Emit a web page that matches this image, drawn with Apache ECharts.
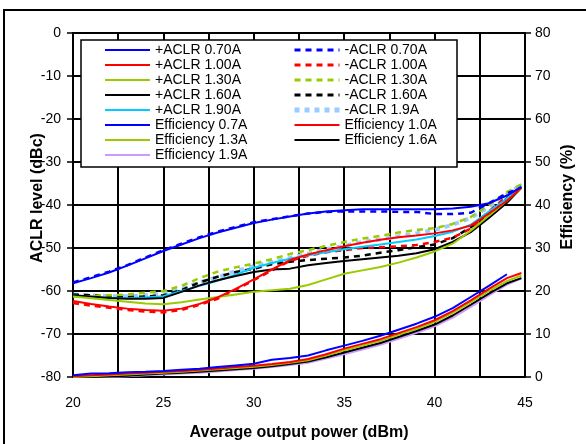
<!DOCTYPE html>
<html>
<head>
<meta charset="utf-8">
<script src="https://cdn.jsdelivr.net/npm/echarts@6/dist/echarts.min.js"></script>
<style>
html,body{margin:0;padding:0;background:#fff;}
#chart{width:586px;height:444px;}
</style>
</head>
<body>
<div id="chart"></div>
<script>
// ---- data ----
const power = [20,21,22,23,24,25,26,27,28,29,30,31,32,33,34,35,36,37,38,39,40,41,42,43,44,44.8];

const posAclr070 = [-58.2,-57.0,-55.7,-54.1,-52.4,-50.7,-49.2,-47.7,-46.4,-45.3,-44.2,-43.4,-42.7,-42.0,-41.5,-41.2,-41.0,-41.0,-41.0,-41.0,-41.0,-40.8,-40.4,-39.6,-37.8,-35.8];
const negAclr070 = [-58.0,-56.8,-55.5,-54.0,-52.2,-50.5,-49.0,-47.5,-46.2,-45.1,-44.0,-43.3,-42.6,-42.0,-41.6,-41.5,-41.5,-41.5,-41.6,-41.6,-42.1,-42.1,-41.8,-39.6,-37.3,-35.9];
const posAclr100 = [-62.3,-63.0,-63.6,-64.1,-64.4,-64.6,-64.1,-63.0,-61.5,-59.5,-57.3,-55.0,-52.8,-51.5,-50.5,-49.6,-48.8,-48.1,-47.5,-47.1,-46.6,-45.9,-44.8,-42.0,-39.0,-36.0];
const negAclr100 = [-62.8,-63.4,-63.9,-64.4,-64.8,-65.0,-64.4,-63.2,-61.8,-59.7,-57.5,-55.2,-53.0,-51.8,-51.0,-50.5,-50.0,-49.8,-49.6,-49.3,-48.6,-47.6,-45.5,-41.5,-38.0,-35.8];
const posAclr130 = [-61.3,-61.7,-62.1,-62.5,-62.9,-63.1,-62.6,-62.0,-61.4,-60.8,-60.2,-59.8,-59.5,-58.6,-57.3,-56.0,-55.2,-54.4,-53.4,-52.2,-50.8,-49.0,-46.0,-42.5,-39.0,-36.0];
const negAclr130 = [-61.2,-61.2,-61.0,-60.8,-60.4,-60.0,-58.8,-57.0,-55.5,-54.5,-53.6,-52.6,-51.4,-50.5,-49.5,-48.6,-47.8,-47.2,-46.4,-45.8,-45.4,-44.4,-42.8,-40.0,-37.0,-35.2];
const posAclr160 = [-61.0,-61.3,-61.6,-61.8,-61.8,-61.6,-60.2,-58.7,-57.5,-56.5,-55.6,-55.0,-54.8,-54.0,-53.5,-53.0,-52.6,-52.2,-51.8,-51.2,-50.3,-48.6,-46.3,-43.0,-39.5,-36.0];
const negAclr160 = [-60.8,-61.0,-61.3,-61.4,-61.3,-61.0,-59.8,-58.0,-56.7,-55.6,-54.8,-53.8,-53.2,-52.8,-52.5,-52.2,-51.8,-51.1,-50.5,-49.8,-49.2,-47.7,-45.2,-42.0,-38.5,-36.0];
const posAclr190 = [-61.0,-61.4,-61.6,-61.7,-61.5,-61.2,-60.0,-58.8,-57.6,-56.2,-54.6,-53.5,-52.5,-51.7,-51.0,-50.3,-49.7,-49.2,-48.6,-48.0,-47.2,-46.2,-44.6,-41.5,-38.5,-35.5];
const negAclr190 = [-60.8,-61.0,-61.2,-61.2,-61.0,-60.6,-59.5,-58.0,-56.8,-55.4,-54.2,-53.3,-52.3,-51.3,-50.3,-49.5,-48.6,-48.0,-47.3,-46.6,-45.8,-44.6,-43.0,-40.5,-37.5,-35.3];

const eff07 = [0.4,0.8,0.9,1.1,1.2,1.4,1.7,1.9,2.3,2.7,3.1,4.0,4.4,5.0,6.2,7.3,8.4,9.6,11.0,12.4,14.0,16.0,18.6,21.2,23.9,null];
const eff10 = [0.2,0.4,0.6,0.8,1.0,1.2,1.4,1.7,2.0,2.3,2.6,3.0,3.5,4.2,5.3,6.6,7.7,8.8,10.2,11.6,13.2,15.3,17.8,20.5,23.0,24.2];
const eff13 = [0.0,0.2,0.4,0.6,0.8,1.0,1.2,1.5,1.8,2.1,2.4,2.8,3.3,3.9,5.0,6.2,7.3,8.4,9.8,11.2,12.8,14.9,17.4,20.0,22.3,23.6];
const eff16 = [0.0,0.0,0.1,0.3,0.6,0.8,1.0,1.2,1.5,1.8,2.1,2.5,3.0,3.6,4.6,5.7,6.8,7.9,9.3,10.7,12.2,14.3,16.8,19.4,21.8,23.0];
const eff19 = [0.0,0.0,0.0,0.2,0.4,0.6,0.8,1.0,1.3,1.6,1.9,2.3,2.8,3.3,4.3,5.3,6.4,7.5,8.9,10.3,11.8,13.8,16.3,19.0,21.5,22.9];

const xTicks = [20,25,30,35,40,45];
const leftNames = ['+ACLR 0.70A','+ACLR 1.00A','+ACLR 1.30A','+ACLR 1.60A','+ACLR 1.90A','Efficiency 0.7A','Efficiency 1.3A','Efficiency 1.9A'];
const rightNames = ['-ACLR 0.70A','-ACLR 1.00A','-ACLR 1.30A','-ACLR 1.60A','-ACLR 1.9A','Efficiency 1.0A','Efficiency 1.6A'];

// ---- build chart ----
const FONT = '"Liberation Sans", Arial, sans-serif';
const pairs = arr => power.map((x, i) => [x, arr[i]]);
function mk(name, arr, color, axis, dash, width) {
  return {
    name: name, type: 'line', yAxisIndex: axis, data: pairs(arr),
    symbol: 'none', showSymbol: false, smooth: false, animation: false,
    lineStyle: { color: color, width: width || 2, type: dash || 'solid' },
    itemStyle: { color: color }
  };
}
const series = [
  mk('Efficiency 1.9A', eff19, '#CC99FF', 1),
  mk('Efficiency 1.6A', eff16, '#000000', 1),
  mk('Efficiency 1.3A', eff13, '#99CC00', 1),
  mk('Efficiency 1.0A', eff10, '#FF0000', 1),
  mk('Efficiency 0.7A', eff07, '#0000FF', 1),
  mk('-ACLR 1.9A', negAclr190, '#99CCFF', 0, [5,5], 4),
  mk('-ACLR 1.60A', negAclr160, '#000000', 0, [6,5], 2.5),
  mk('-ACLR 1.30A', negAclr130, '#99CC00', 0, [6,5], 2.5),
  mk('-ACLR 1.00A', negAclr100, '#FF0000', 0, [6,5], 2.5),
  mk('-ACLR 0.70A', negAclr070, '#0000FF', 0, [6,5], 2.5),
  mk('+ACLR 1.90A', posAclr190, '#00CCFF', 0),
  mk('+ACLR 1.60A', posAclr160, '#000000', 0),
  mk('+ACLR 1.30A', posAclr130, '#99CC00', 0),
  mk('+ACLR 1.00A', posAclr100, '#FF0000', 0),
  mk('+ACLR 0.70A', posAclr070, '#0000FF', 0)
];

const legendItem = name => {
  if (name === '-ACLR 1.9A') return { name: name, lineStyle: { width: 5, type: [5, 5] } };
  if (name.charAt(0) === '-') return { name: name, lineStyle: { width: 3, type: [6, 5] } };
  return { name: name, lineStyle: { width: 2 } };
};

const legendBase = {
  orient: 'vertical', itemWidth: 45, itemHeight: 10, itemGap: 0, padding: 0,
  top: 42.5, z: 20, selectedMode: false,
  itemStyle: { opacity: 0 },
  textStyle: { fontSize: 14, lineHeight: 15, color: '#000', fontFamily: FONT }
};

const chart = echarts.init(document.getElementById('chart'), null, { renderer: 'canvas' });
chart.setOption({
  backgroundColor: '#fff',
  animation: false,
  textStyle: { fontFamily: FONT },
  grid: { left: 73, right: 61, top: 33, bottom: 67, containLabel: false },
  legend: [
    Object.assign({}, legendBase, { left: 104, data: leftNames.map(legendItem) }),
    Object.assign({}, legendBase, { left: 292, data: rightNames.map(legendItem) })
  ],
  xAxis: {
    type: 'value', min: 20, max: 45, interval: 2.5,
    axisLine: { show: true, lineStyle: { color: '#000', width: 2 } },
    axisTick: { show: false },
    splitLine: { show: true, lineStyle: { color: '#000', width: 2 } },
    axisLabel: {
      margin: 19, fontSize: 14, color: '#000', fontFamily: FONT,
      formatter: v => (xTicks.indexOf(v) >= 0 ? String(v) : '')
    }
  },
  yAxis: [
    {
      type: 'value', min: -80, max: 0, interval: 10, position: 'left',
      axisLine: { show: true, lineStyle: { color: '#000', width: 2 } },
      axisTick: { show: true, inside: false, length: 6, lineStyle: { color: '#000', width: 1.5 } },
      splitLine: { show: true, lineStyle: { color: '#000', width: 2 } },
      axisLabel: { margin: 12, fontSize: 14, color: '#000', fontFamily: FONT }
    },
    {
      type: 'value', min: 0, max: 80, interval: 10, position: 'right',
      axisLine: { show: true, lineStyle: { color: '#000', width: 2 } },
      axisTick: { show: true, inside: false, length: 6, lineStyle: { color: '#000', width: 1.5 } },
      splitLine: { show: false },
      axisLabel: { margin: 10, fontSize: 14, color: '#000', fontFamily: FONT }
    }
  ],
  graphic: [
    { type: 'rect', z: 100, silent: true,
      shape: { x: 4, y: 10, width: 640, height: 480 },
      style: { fill: null, stroke: '#000', lineWidth: 2 } },
    { type: 'rect', z: 10, silent: true,
      shape: { x: 81, y: 40, width: 376, height: 127 },
      style: { fill: '#fff', stroke: '#000', lineWidth: 1.5 } },
    { type: 'text', z: 10, x: 38, y: 198, rotation: Math.PI / 2,
      style: { text: 'ACLR level (dBc)', font: 'bold 16px ' + FONT, fill: '#000', textAlign: 'center', textVerticalAlign: 'middle' } },
    { type: 'text', z: 10, x: 568, y: 197, rotation: Math.PI / 2,
      style: { text: 'Efficiency (%)', font: 'bold 16px ' + FONT, fill: '#000', textAlign: 'center', textVerticalAlign: 'middle' } },
    { type: 'text', z: 10, x: 299, y: 433,
      style: { text: 'Average output power (dBm)', font: 'bold 16px ' + FONT, fill: '#000', textAlign: 'center', textVerticalAlign: 'middle' } }
  ],
  series: series
});
</script>
</body>
</html>
